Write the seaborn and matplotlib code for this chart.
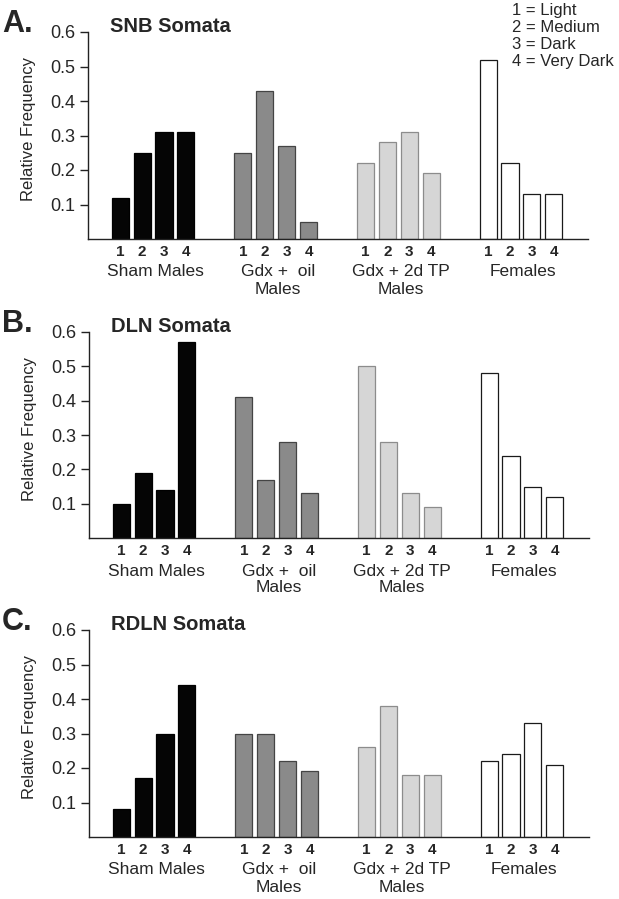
import numpy as np
import pandas as pd
import matplotlib
matplotlib.use("Agg")
import matplotlib.pyplot as plt
import seaborn as sns

# ---------------- data ----------------
groups = ["Sham Males", "Gdx + oil Males", "Gdx + 2d TP Males", "Females"]
group_line1 = ["Sham Males", "Gdx +  oil", "Gdx + 2d TP", "Females"]
group_line2 = ["", "Males", "Males", ""]
levels = ["1", "2", "3", "4"]
legend_lines = ["1 = Light", "2 = Medium", "3 = Dark", "4 = Very Dark"]
panel_letters = ["A.", "B.", "C."]
panel_titles = ["SNB Somata", "DLN Somata", "RDLN Somata"]
y_ticks = [0.1, 0.2, 0.3, 0.4, 0.5, 0.6]
y_tick_labels = ["0.1", "0.2", "0.3", "0.4", "0.5", "0.6"]
y_label = "Relative Frequency"

snb_sham = [0.12, 0.25, 0.31, 0.31]
snb_oil = [0.25, 0.43, 0.27, 0.05]
snb_tp = [0.22, 0.28, 0.31, 0.19]
snb_fem = [0.52, 0.22, 0.13, 0.13]

dln_sham = [0.10, 0.19, 0.14, 0.57]
dln_oil = [0.41, 0.17, 0.28, 0.13]
dln_tp = [0.50, 0.28, 0.13, 0.09]
dln_fem = [0.48, 0.24, 0.15, 0.12]

rdln_sham = [0.08, 0.17, 0.30, 0.44]
rdln_oil = [0.30, 0.30, 0.22, 0.19]
rdln_tp = [0.26, 0.38, 0.18, 0.18]
rdln_fem = [0.22, 0.24, 0.33, 0.21]

panel_values = [
    [snb_sham, snb_oil, snb_tp, snb_fem],
    [dln_sham, dln_oil, dln_tp, dln_fem],
    [rdln_sham, rdln_oil, rdln_tp, rdln_fem],
]

# ---------------- style ----------------
fills = ["#050505", "#8a8a8a", "#d6d6d6", "#ffffff"]
edges = ["#000000", "#444444", "#8c8c8c", "#1a1a1a"]
GROUP_STEP = 5.6
BAR_W = 0.78

sns.set_style("ticks")
plt.rcParams["font.family"] = ["Liberation Sans", "DejaVu Sans"]

W, H = 619, 899
fig = plt.figure(figsize=(W / 100, H / 100), dpi=100)

# axes boxes in pixels: (left, right, top, bottom)
boxes = [(88, 588, 32, 239), (89, 589, 332, 538), (89, 589, 630, 837)]
PX = 0.72  # points per pixel

rows = []
for p, vals in enumerate(panel_values):
    for g, gvals in enumerate(vals):
        for i, v in enumerate(gvals):
            rows.append({"panel": panel_titles[p], "group": groups[g],
                         "level": levels[i], "value": v,
                         "pos": round(g * GROUP_STEP + i, 3)})
df = pd.DataFrame(rows)

for k, (l, r, t, b) in enumerate(boxes):
    ax = fig.add_axes([l / W, 1 - b / H, (r - l) / W, (b - t) / H])
    d = df[df["panel"] == panel_titles[k]]
    sns.barplot(data=d, x="pos", y="value", hue="group", hue_order=groups,
                palette=dict(zip(groups, fills)), native_scale=True,
                dodge=False, width=BAR_W, saturation=1, legend=False,
                errorbar=None, ax=ax)
    for cont, ec in zip(ax.containers, edges):
        for bar in cont:
            bar.set_edgecolor(ec)
            bar.set_linewidth(0.9)

    ax.set_xlim(-1.47, 21.36)
    ax.set_ylim(0, 0.6)
    for s in ["top", "right"]:
        ax.spines[s].set_visible(False)
    for s in ["left", "bottom"]:
        ax.spines[s].set_color("#222222")
        ax.spines[s].set_linewidth(1.0)

    pos = sorted(d["pos"].unique())
    ax.set_xticks(pos)
    ax.set_xticklabels(levels * len(groups), fontweight="bold", fontsize=11)
    ax.tick_params(axis="x", length=0, pad=4)
    ax.set_yticks(y_ticks)
    ax.set_yticklabels(y_tick_labels, fontsize=13)
    ax.tick_params(axis="y", length=6, width=1, direction="out", pad=3,
                   color="#222222")
    ax.set_xlabel("")
    ax.set_ylabel(y_label, fontsize=12)
    ax.yaxis.set_label_coords(-0.104, 0.53)

    # group labels
    for g in range(len(groups)):
        cx = g * GROUP_STEP + 1.5 + 0.1
        ax.annotate(group_line1[g], xy=(cx, 0), xycoords=("data", "axes fraction"),
                    xytext=(0, -33 * PX), textcoords="offset points",
                    ha="center", va="center", fontsize=12.5)
        if group_line2[g]:
            ax.annotate(group_line2[g], xy=(cx, 0), xycoords=("data", "axes fraction"),
                        xytext=(0, -50 * PX), textcoords="offset points",
                        ha="center", va="center", fontsize=12.5)

    # panel letter and title
    ax.annotate(panel_letters[k], xy=(0, 1), xycoords="axes fraction",
                xytext=(-(l - 2) * PX, 0), textcoords="offset points",
                ha="left", va="baseline", fontsize=22, fontweight="bold")
    ax.annotate(panel_titles[k], xy=(0, 1), xycoords="axes fraction",
                xytext=(22 * PX, 0), textcoords="offset points",
                ha="left", va="baseline", fontsize=14.5, fontweight="bold")

# legend text (top right)
for j, line in enumerate(legend_lines):
    fig.text(512 / W, 1 - (11 + j * 16.7) / H, line, ha="left", va="center",
             fontsize=12)

fig.savefig("out.png", dpi=100)
